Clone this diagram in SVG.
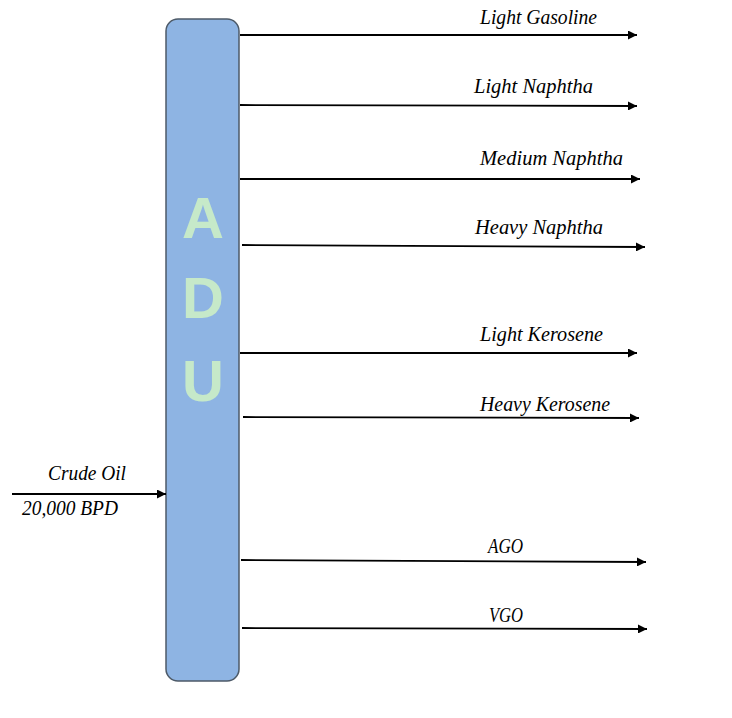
<svg xmlns="http://www.w3.org/2000/svg" width="732" height="718" viewBox="0 0 732 718">
  <defs>
    <marker id="arrow" viewBox="0 0 10 10" refX="10" refY="5" markerWidth="11" markerHeight="9" markerUnits="userSpaceOnUse" orient="auto">
      <path d="M0,0 L10,5 L0,10 Z" fill="#000"/>
    </marker>
    <style>
      .lbl { font-family: "Liberation Serif", "Times New Roman", serif; font-style: italic; font-size: 20px; fill: #000; }
      .stream { stroke: #000; stroke-width: 1.8; fill: none; marker-end: url(#arrow); }
      .col { fill: #8EB4E3; stroke: #4D5A68; stroke-width: 1.5; }
      .big { font-family: "Liberation Sans", Arial, sans-serif; font-weight: bold; font-size: 58px; fill: #C6E9C9; text-anchor: middle; }
    </style>
  </defs>
  <rect width="732" height="718" fill="#fff"/>

  <g id="adu">
    <rect class="col" x="166" y="19" width="73" height="662" rx="12" ry="12"/>
    <text class="big" x="203" y="238">A</text>
    <text class="big" x="203" y="318">D</text>
    <text class="big" x="203" y="401">U</text>
  </g>

  <g id="connectors">
    <line class="stream" x1="12" y1="494" x2="166" y2="494"/>
    <line class="stream" x1="240" y1="35" x2="637" y2="35"/>
    <line class="stream" x1="240" y1="105" x2="637" y2="106"/>
    <line class="stream" x1="240" y1="179" x2="640" y2="179"/>
    <line class="stream" x1="242" y1="245" x2="645" y2="247"/>
    <line class="stream" x1="240" y1="353" x2="637" y2="353"/>
    <line class="stream" x1="243" y1="417" x2="639" y2="418"/>
    <line class="stream" x1="241" y1="560" x2="646" y2="562"/>
    <line class="stream" x1="242" y1="628" x2="647" y2="629"/>
  </g>

  <g id="crude-oil">
    <text class="lbl" x="48" y="480" textLength="78" lengthAdjust="spacingAndGlyphs">Crude Oil</text>
    <text class="lbl" x="22" y="515" textLength="96" lengthAdjust="spacingAndGlyphs">20,000 BPD</text>
  </g>
  <g id="light-gasoline">
    <text class="lbl" x="480" y="24" textLength="117" lengthAdjust="spacingAndGlyphs">Light Gasoline</text>
  </g>
  <g id="light-naphtha">
    <text class="lbl" x="474" y="93" textLength="119" lengthAdjust="spacingAndGlyphs">Light Naphtha</text>
  </g>
  <g id="medium-naphtha">
    <text class="lbl" x="480" y="165" textLength="143" lengthAdjust="spacingAndGlyphs">Medium Naphtha</text>
  </g>
  <g id="heavy-naphtha">
    <text class="lbl" x="475" y="234" textLength="128" lengthAdjust="spacingAndGlyphs">Heavy Naphtha</text>
  </g>
  <g id="light-kerosene">
    <text class="lbl" x="480" y="341" textLength="123" lengthAdjust="spacingAndGlyphs">Light Kerosene</text>
  </g>
  <g id="heavy-kerosene">
    <text class="lbl" x="480" y="411" textLength="130" lengthAdjust="spacingAndGlyphs">Heavy Kerosene</text>
  </g>
  <g id="ago">
    <text class="lbl" x="488" y="553" textLength="35" lengthAdjust="spacingAndGlyphs">AGO</text>
  </g>
  <g id="vgo">
    <text class="lbl" x="489" y="622" textLength="34" lengthAdjust="spacingAndGlyphs">VGO</text>
  </g>
</svg>
